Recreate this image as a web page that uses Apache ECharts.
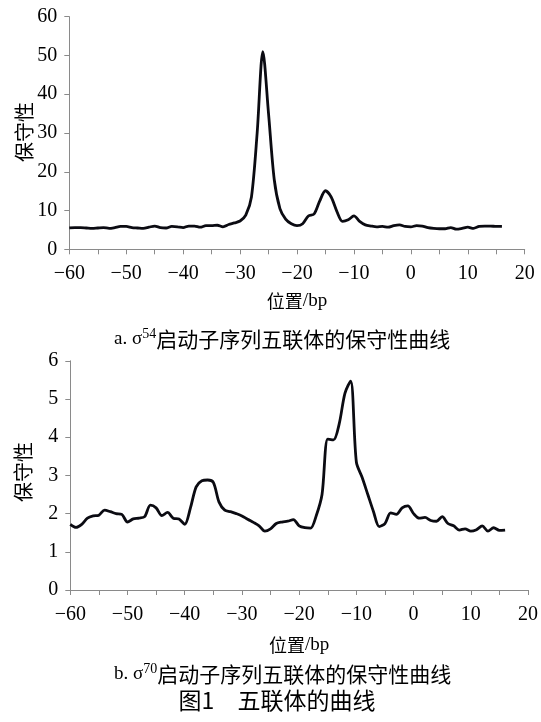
<!DOCTYPE html>
<html>
<head>
<meta charset="utf-8">
<style>
html,body{margin:0;padding:0;background:#fff;}
#chart{width:541px;height:722px;}
</style>
<script src="https://cdn.jsdelivr.net/npm/echarts/dist/echarts.min.js"></script>
</head>
<body>
<div id="chart"></div>
<script>
// positions (bp), shared by both panels
const positions = [-60,-59,-58,-57,-56,-55,-54,-53,-52,-51,
  -50,-49,-48,-47,-46,-45,-44,-43,-42,-41,
  -40,-39,-38,-37,-36,-35,-34,-33,-32,-31,
  -30,-29,-28,-27,-26,-25,-24,-23,-22,-21,
  -20,-19,-18,-17,-16,-15,-14,-13,-12,-11,
  -10,-9,-8,-7,-6,-5,-4,-3,-2,-1,
  0,1,2,3,4,5,6,7,8,9,
  10,11,12,13,14,15,16];

// panel a: sigma54 conservation
const valuesA = [5.5,5.6,5.6,5.5,5.4,5.5,5.6,5.4,5.6,5.9,
  5.9,5.6,5.5,5.4,5.7,6.0,5.6,5.5,5.9,5.8,
  5.6,6.0,6.0,5.7,6.1,6.1,6.2,5.8,6.4,6.8,
  7.3,8.8,13.5,30,51,35,18,10.5,7.8,6.6,
  6.1,6.6,8.6,9.1,12.5,15.1,13.5,9.8,7.2,7.6,
  8.6,7.2,6.3,6.0,5.8,5.9,5.7,6.1,6.3,5.9,
  5.8,6.1,6.0,5.6,5.4,5.3,5.3,5.6,5.2,5.4,
  5.7,5.4,5.9,6.0,6.0,5.9,5.9];

// panel b: sigma70 conservation
const valuesB = [1.72,1.64,1.72,1.88,1.94,1.96,2.09,2.05,2.00,1.98,
  1.78,1.86,1.88,1.92,2.22,2.15,1.95,2.03,1.88,1.86,
  1.72,2.15,2.70,2.86,2.88,2.82,2.30,2.09,2.05,2.00,
  1.94,1.85,1.77,1.68,1.54,1.60,1.74,1.78,1.80,1.84,
  1.68,1.63,1.62,1.95,2.50,3.95,3.93,4.35,5.15,5.47,
  3.35,2.95,2.50,2.05,1.66,1.74,2.02,1.98,2.15,2.20,
  2.00,1.88,1.90,1.82,1.80,1.92,1.74,1.68,1.57,1.60,
  1.54,1.58,1.68,1.54,1.63,1.56,1.57];

const xTicks = {min: -60, max: 20, interval: 10};
const yTicksA = {min: 0, max: 60, interval: 10};
const yTicksB = {min: 0, max: 6, interval: 1};

const axisTitleY = '保守性';
const captionA = ['a. σ', '54', '启动子序列五联体的保守性曲线'];
const captionB = ['b. σ', '70', '启动子序列五联体的保守性曲线'];
const figTitle = '图1\u3000五联体的曲线';

const serif = '"Liberation Serif","Times New Roman",serif';
const cjk = '"Noto Sans CJK SC","Noto Sans",sans-serif';
const axisGray = '#8a8a8a';

function pair(xs, ys){ return xs.map((x,i)=>[x, ys[i]]); }
function minus(v){ return String(v).replace('-', '\u2212'); }

function xAxisCfg(gridIndex, labelMargin, nameGap){
  return {
    type:'value', gridIndex, min:xTicks.min, max:xTicks.max, interval:xTicks.interval,
    axisLine:{show:true, onZero:false, lineStyle:{color:axisGray, width:1}},
    axisTick:{show:true, inside:false, length:5, lineStyle:{color:axisGray}},
    minorTick:{show:true, splitNumber:2, length:5, lineStyle:{color:axisGray}},
    splitLine:{show:false},
    axisLabel:{color:'#000', fontFamily:serif, fontSize:20, margin:labelMargin, formatter:minus},
    name:'{c|位置}{s|/bp}', nameLocation:'middle', nameGap:nameGap,
    nameTextStyle:{rich:{
      c:{fontFamily:cjk, fontSize:18, color:'#000', lineHeight:22},
      s:{fontFamily:serif, fontSize:19, color:'#000', lineHeight:22}
    }}
  };
}
function yAxisCfg(gridIndex, t){
  return {
    type:'value', gridIndex, min:t.min, max:t.max, interval:t.interval,
    axisLine:{show:true, onZero:false, lineStyle:{color:axisGray, width:1}},
    axisTick:{show:true, inside:false, length:5, lineStyle:{color:axisGray}},
    splitLine:{show:false},
    axisLabel:{color:'#000', fontFamily:serif, fontSize:20, margin:12}
  };
}

function yName(x, y){
  return {type:'text', x, y, rotation:Math.PI/2, silent:true,
    style:{text:axisTitleY, x:0, y:0, align:'center', verticalAlign:'middle',
      fontFamily:cjk, fontSize:20, fill:'#000'}};
}
function caption(parts, x, y){
  return {type:'text', x, y, silent:true,
    style:{text:'{s|'+parts[0]+'}{u|'+parts[1]+'}{c|'+parts[2]+'}', x:0, y:0,
      align:'left', verticalAlign:'middle',
      rich:{
        s:{fontFamily:serif, fontSize:19, fill:'#000', lineHeight:24},
        u:{fontFamily:serif, fontSize:14, fill:'#000', lineHeight:14, verticalAlign:'top'},
        c:{fontFamily:cjk, fontSize:21, fill:'#000', lineHeight:24}
      }}};
}

const lineStyle = {color:'#0b0b12', width:2.8};

const option = {
  animation:false,
  backgroundColor:'#fff',
  grid:[
    {left:69.3, right:16.3, top:16.7, height:232.6},
    {left:70.3, right:10.5, top:360.8, height:229.2}
  ],
  xAxis:[xAxisCfg(0, 14, 41), xAxisCfg(1, 15, 44)],
  yAxis:[yAxisCfg(0, yTicksA), yAxisCfg(1, yTicksB)],
  series:[
    {type:'line', xAxisIndex:0, yAxisIndex:0, data:pair(positions, valuesA),
      showSymbol:false, smooth:0.3, lineStyle},
    {type:'line', xAxisIndex:1, yAxisIndex:1, data:pair(positions, valuesB),
      showSymbol:false, smooth:0.3, lineStyle}
  ],
  graphic:[
    yName(24, 132),
    yName(23.5, 472),
    caption(captionA, 114, 339),
    caption(captionB, 114, 674),
    {type:'text', x:277, y:700, silent:true,
      style:{text:figTitle, x:0, y:0, align:'center', verticalAlign:'middle',
        fontFamily:cjk, fontSize:23, fill:'#000'}}
  ]
};

const chart = echarts.init(document.getElementById('chart'), null, {renderer:'canvas'});
chart.setOption(option);
</script>
</body>
</html>
